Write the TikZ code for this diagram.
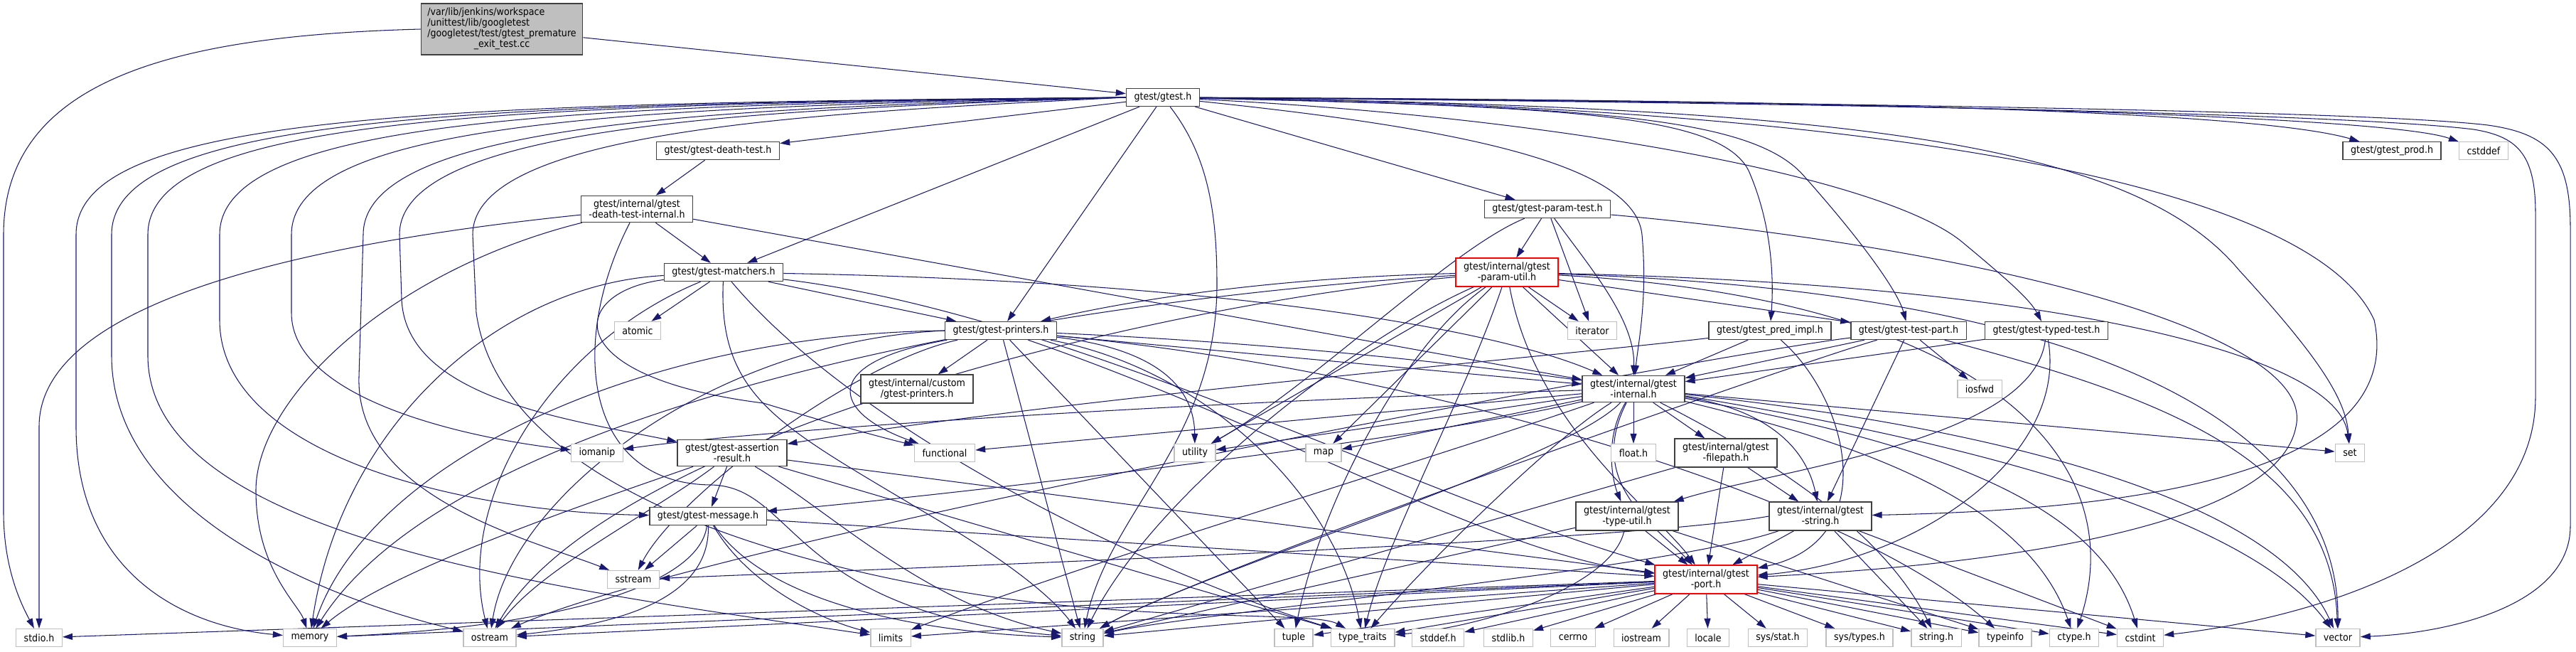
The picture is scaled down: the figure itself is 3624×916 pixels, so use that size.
\documentclass[tikz,border=0pt]{standalone}
\usepackage{fontspec}
\setmainfont{DejaVu Sans}[FakeStretch=0.9]
\usepackage{tikz}
\usetikzlibrary{arrows.meta}
\definecolor{EdgeBlue}{HTML}{191970}
\definecolor{BoxGray}{HTML}{404040}
\definecolor{SysGray}{HTML}{BFBFBF}
\definecolor{RootFill}{HTML}{BFBFBF}
\pgfdeclarelayer{background}
\pgfsetlayers{background,main}

\begin{document}
\begin{tikzpicture}[
  x=0.2mm, y=-0.2mm,
  hdr/.style={draw=BoxGray,line width=0.8pt,fill=white,align=center,
              font=\fontsize{8}{8.6}\selectfont,inner xsep=2.2mm,inner ysep=1.1mm,minimum height=5mm},
  sys/.style={hdr,draw=SysGray},
  trunc/.style={hdr,draw=red},
  rootbox/.style={hdr,fill=RootFill,inner xsep=1.8mm},
  edge/.style={draw=EdgeBlue,line width=0.6pt,-{Triangle[length=2.8mm,width=1.8mm]}}
]
  \useasboundingbox (0,0) rectangle (3624,916);

  \node[rootbox] (root) at (706,41) {\begin{tabular}{@{}l@{}}/var/lib/jenkins/workspace\\/unittest/lib/googletest\\/googletest/test/gtest\_premature\\\multicolumn{1}{@{}c@{}}{\_exit\_test.cc}\end{tabular}};
  \node[hdr] (gtest) at (1636,137) {gtest/gtest.h};
  \node[hdr] (deathtest) at (1010,212) {gtest/gtest-death-test.h};
  \node[hdr] (prod) at (3365,212) {gtest/gtest\_prod.h};
  \node[sys] (cstddef) at (3494,212) {cstddef};
  \node[hdr] (dti) at (896,294) {gtest/internal/gtest\\-death-test-internal.h};
  \node[hdr] (paramtest) at (2177,294) {gtest/gtest-param-test.h};
  \node[hdr] (matchers) at (1018,383) {gtest/gtest-matchers.h};
  \node[trunc] (paramutil) at (2120,383) {gtest/internal/gtest\\-param-util.h};
  \node[sys] (atomic) at (897,465) {atomic};
  \node[hdr] (printers) at (1408,465) {gtest/gtest-printers.h};
  \node[sys] (iterator) at (2240,465) {iterator};
  \node[hdr] (predimpl) at (2490,465) {gtest/gtest\_pred\_impl.h};
  \node[hdr] (testpart) at (2685,465) {gtest/gtest-test-part.h};
  \node[hdr] (typedtest) at (2879,465) {gtest/gtest-typed-test.h};
  \node[hdr] (custom) at (1290,547) {gtest/internal/custom\\/gtest-printers.h};
  \node[hdr] (internal) at (2298,547) {gtest/internal/gtest\\-internal.h};
  \node[sys] (iosfwd) at (2785,547) {iosfwd};
  \node[sys] (iomanip) at (840,637) {iomanip};
  \node[hdr] (assertion) at (1030,637) {gtest/gtest-assertion\\-result.h};
  \node[sys] (functional) at (1329,637) {functional};
  \node[sys] (utility) at (1681,637) {utility};
  \node[sys] (map) at (1862,637) {map};
  \node[sys] (floath) at (2298,637) {float.h};
  \node[hdr] (filepath) at (2428,637) {gtest/internal/gtest\\-filepath.h};
  \node[sys] (set) at (3306,637) {set};
  \node[hdr] (message) at (996,726) {gtest/gtest-message.h};
  \node[hdr] (typeutil) at (2289,726) {gtest/internal/gtest\\-type-util.h};
  \node[hdr] (gstring) at (2561,726) {gtest/internal/gtest\\-string.h};
  \node[sys] (sstream) at (891,815) {sstream};
  \node[trunc] (port) at (2400,815) {gtest/internal/gtest\\-port.h};
  \node[sys] (stdio) at (55,897) {stdio.h};
  \node[sys] (memory) at (436,897) {memory};
  \node[sys] (ostream) at (689,897) {ostream};
  \node[sys] (limits) at (1253,897) {limits};
  \node[sys] (string) at (1523,897) {string};
  \node[sys] (tuple) at (1820,897) {tuple};
  \node[sys] (typetraits) at (1917,897) {type\_traits};
  \node[sys] (stddef) at (2023,897) {stddef.h};
  \node[sys] (stdlib) at (2122,897) {stdlib.h};
  \node[sys] (cerrno) at (2213,897) {cerrno};
  \node[sys] (iostream) at (2309,897) {iostream};
  \node[sys] (locale) at (2403,897) {locale};
  \node[sys] (sysstat) at (2501,897) {sys/stat.h};
  \node[sys] (systypes) at (2616,897) {sys/types.h};
  \node[sys] (stringh) at (2724,897) {string.h};
  \node[sys] (typeinfo) at (2821,897) {typeinfo};
  \node[sys] (ctype) at (2918,897) {ctype.h};
  \node[sys] (cstdint) at (3011,897) {cstdint};
  \node[sys] (vector) at (3289,897) {vector};

  \begin{pgfonlayer}{background}
  \draw[edge] (root) -- (gtest);
  \draw[edge] (root.west) .. controls (250,50) and (5,110) .. (5,330) -- (5,720) .. controls (5,800) and (30,850) .. (stdio);

  \draw[edge] (gtest.west) .. controls (607,145) and (107,160) .. (107,330) -- (107,600) .. controls (107,800) and (250,880) .. (memory);
  \draw[edge] (gtest.west) .. controls (657,146) and (157,162) .. (157,330) -- (157,500) .. controls (157,720) and (450,840) .. (ostream);
  \draw[edge] (gtest.west) .. controls (708,147) and (208,164) .. (208,330) -- (208,500) .. controls (208,760) and (800,830) .. (limits);
  \draw[edge] (gtest.west) .. controls (809,148) and (309,166) .. (309,330) -- (309,450) .. controls (309,640) and (650,720) .. (message);
  \draw[edge] (gtest.west) .. controls (910,150) and (410,168) .. (410,330) -- (410,440) .. controls (410,560) and (650,615) .. (iomanip);
  \draw[edge] (gtest.west) .. controls (1011,152) and (511,172) .. (511,330) -- (505,530) .. controls (500,700) and (750,760) .. (sstream);
  \draw[edge] (gtest.west) .. controls (1062,154) and (562,176) .. (562,330) -- (565,420) .. controls (570,560) and (800,590) .. (assertion);
  \draw[edge] (gtest.west) .. controls (1165,158) and (665,180) .. (665,330) -- (670,440) .. controls (700,650) and (1000,780) .. (1400,840) .. controls (1650,875) and (1850,860) .. (typetraits);
  \draw[edge] (gtest) -- (deathtest);
  \draw[edge] (gtest) -- (matchers);
  \draw[edge] (gtest) -- (printers);
  \draw[edge] (gtest) -- (paramtest);
  \draw[edge] (gtest) .. controls (1700,220) and (1712,300) .. (1712,400) .. controls (1712,620) and (1560,720) .. (string);
  \draw[edge] (gtest) .. controls (2050,180) and (2300,230) .. (2310,330) .. controls (2318,420) and (2305,480) .. (internal);
  \draw[edge] (gtest) .. controls (2200,150) and (2420,160) .. (2460,240) .. controls (2495,320) and (2495,400) .. (predimpl);
  \draw[edge] (gtest) .. controls (2250,150) and (2470,165) .. (2540,250) .. controls (2620,340) and (2670,410) .. (testpart);
  \draw[edge] (gtest) .. controls (2200,165) and (2650,250) .. (2760,340) .. controls (2820,390) and (2855,420) .. (typedtest);
  \draw[edge] (gtest) .. controls (2600,150) and (3000,200) .. (3150,380) .. controls (3260,500) and (3300,560) .. (set);
  \draw[edge] (gtest) .. controls (2600,148) and (3250,250) .. (3340,450) .. controls (3390,680) and (2950,718) .. (gstring);
  \draw[edge] (gtest) .. controls (2400,140) and (3150,150) .. (prod);
  \draw[edge] (gtest) .. controls (2500,140) and (3350,160) .. (cstddef);
  \draw[edge] (gtest) .. controls (2600,145) and (3300,160) .. (3480,182) .. controls (3540,192) and (3567,215) .. (3567,300) -- (3567,560) .. controls (3565,780) and (3250,870) .. (cstdint);
  \draw[edge] (gtest) .. controls (2700,145) and (3350,158) .. (3500,176) .. controls (3585,188) and (3616,220) .. (3616,320) -- (3616,740) .. controls (3616,850) and (3450,890) .. (vector);

  \draw[edge] (deathtest) -- (dti);

  \draw[edge] (dti) .. controls (450,340) and (55,420) .. (55,600) -- (stdio);
  \draw[edge] (dti) .. controls (550,380) and (360,560) .. (360,690) .. controls (360,800) and (420,850) .. (memory);
  \draw[edge] (dti) .. controls (800,480) and (820,680) .. (1000,682) .. controls (1120,684) and (1110,860) .. (string);
  \draw[edge] (dti) -- (matchers);
  \draw[edge] (dti) -- (internal);

  \draw[edge] (matchers) -- (atomic);
  \draw[edge] (matchers) -- (printers);
  \draw[edge] (matchers) .. controls (1700,395) and (2100,460) .. (internal);
  \draw[edge] (matchers) .. controls (1500,440) and (2000,700) .. (port);
  \draw[edge] (matchers) .. controls (700,400) and (480,600) .. (memory);
  \draw[edge] (matchers) .. controls (780,480) and (640,700) .. (ostream);
  \draw[edge] (matchers) .. controls (800,410) and (780,530) .. (1074,567) .. controls (1150,590) and (1220,610) .. (functional);
  \draw[edge] (matchers) .. controls (1010,560) and (1100,600) .. (1300,720) .. controls (1420,790) and (1480,840) .. (string);
  \draw[edge] (matchers) .. controls (1200,600) and (1600,800) .. (typetraits);

  \draw[edge] (paramtest) -- (paramutil);
  \draw[edge] (paramtest) -- (iterator);
  \draw[edge] (paramtest) .. controls (2040,350) and (1850,540) .. (utility);
  \draw[edge] (paramtest) .. controls (2240,380) and (2300,450) .. (internal);
  \draw[edge] (paramtest) .. controls (2800,350) and (3260,470) .. (3230,600) .. controls (3200,760) and (2700,800) .. (port);

  \draw[edge] (paramutil) .. controls (1800,390) and (1600,420) .. (printers);
  \draw[edge] (paramutil) .. controls (1500,420) and (650,560) .. (memory);
  \draw[edge] (paramutil) .. controls (1600,430) and (850,620) .. (ostream);
  \draw[edge] (paramutil) .. controls (1900,480) and (1620,700) .. (string);
  \draw[edge] (paramutil) .. controls (1980,480) and (1860,700) .. (tuple);
  \draw[edge] (paramutil) .. controls (2060,560) and (1950,760) .. (typetraits);
  \draw[edge] (paramutil) -- (map);
  \draw[edge] (paramutil) -- (utility);
  \draw[edge] (paramutil) -- (iterator);
  \draw[edge] (paramutil) -- (internal);
  \draw[edge] (paramutil) .. controls (2160,600) and (2330,720) .. (port);
  \draw[edge] (paramutil) -- (testpart);
  \draw[edge] (paramutil) .. controls (2900,400) and (3290,500) .. (set);
  \draw[edge] (paramutil) .. controls (2950,410) and (3290,600) .. (vector);
  \draw[edge] (paramutil) .. controls (2800,420) and (3000,650) .. (ctype);

  \draw[edge] (printers) -- (custom);
  \draw[edge] (printers) .. controls (1150,510) and (1170,580) .. (functional);
  \draw[edge] (printers.west) .. controls (900,470) and (520,650) .. (memory);
  \draw[edge] (printers.west) .. controls (1000,480) and (720,700) .. (ostream);
  \draw[edge] (printers) .. controls (1200,510) and (950,700) .. (sstream);
  \draw[edge] (printers) -- (string);
  \draw[edge] (printers) -- (tuple);
  \draw[edge] (printers) .. controls (1700,520) and (1880,700) .. (typetraits);
  \draw[edge] (printers) .. controls (1620,490) and (1680,540) .. (utility);
  \draw[edge] (printers) -- (internal);
  \draw[edge] (printers) .. controls (1800,600) and (2100,780) .. (port);
  \draw[edge] (printers) .. controls (2000,520) and (2600,700) .. (typeinfo);
  \draw[edge] (printers) .. controls (2200,500) and (3100,640) .. (vector);

  \draw[edge] (predimpl) .. controls (2200,500) and (1500,560) .. (assertion);
  \draw[edge] (predimpl) -- (internal);
  \draw[edge] (predimpl) .. controls (2600,560) and (2650,760) .. (port);

  \draw[edge] (testpart) -- (iosfwd);
  \draw[edge] (testpart) -- (internal);
  \draw[edge] (testpart) -- (gstring);
  \draw[edge] (testpart) .. controls (2400,500) and (1000,760) .. (ostream);
  \draw[edge] (testpart) .. controls (2500,520) and (1700,800) .. (string);
  \draw[edge] (testpart) .. controls (3050,560) and (3280,650) .. (vector);

  \draw[edge] (typedtest) -- (internal);
  \draw[edge] (typedtest) .. controls (2860,620) and (2500,660) .. (typeutil);
  \draw[edge] (typedtest) .. controls (2910,640) and (2700,790) .. (port);

  \draw[edge] (internal) -- (floath);
  \draw[edge] (internal) -- (filepath);
  \draw[edge] (internal) .. controls (2255,620) and (2270,680) .. (typeutil);
  \draw[edge] (internal) .. controls (2510,580) and (2545,650) .. (gstring);
  \draw[edge] (internal) .. controls (2230,680) and (2330,740) .. (port);
  \draw[edge] (internal) -- (map);
  \draw[edge] (internal) -- (utility);
  \draw[edge] (internal) -- (functional);
  \draw[edge] (internal) .. controls (1800,560) and (1100,600) .. (iomanip);
  \draw[edge] (internal) .. controls (2000,620) and (1300,700) .. (message);
  \draw[edge] (internal) .. controls (2000,650) and (1500,800) .. (limits);
  \draw[edge] (internal) .. controls (2200,650) and (1700,800) .. (string);
  \draw[edge] (internal) .. controls (2180,620) and (2000,800) .. (typetraits);
  \draw[edge] (internal) -- (set);
  \draw[edge] (internal) .. controls (2800,600) and (3200,700) .. (vector);
  \draw[edge] (internal) .. controls (2600,620) and (2850,700) .. (ctype);
  \draw[edge] (internal) .. controls (2700,620) and (2950,700) .. (cstdint);
  \draw[edge] (internal) .. controls (2500,650) and (2650,750) .. (stringh);

  \draw[edge] (assertion) -- (message);
  \draw[edge] (assertion) .. controls (850,700) and (550,800) .. (memory);
  \draw[edge] (assertion) .. controls (920,720) and (760,800) .. (ostream);
  \draw[edge] (assertion) .. controls (1170,720) and (1300,850) .. (string);
  \draw[edge] (assertion) -- (typetraits);
  \draw[edge] (assertion) -- (port);

  \draw[edge] (message) -- (sstream);
  \draw[edge] (message) .. controls (985,820) and (800,880) .. (memory);
  \draw[edge] (message) .. controls (1000,850) and (850,880) .. (ostream);
  \draw[edge] (message) .. controls (1050,820) and (1150,870) .. (limits);
  \draw[edge] (message) .. controls (1080,850) and (1300,890) .. (string);
  \draw[edge] (message) -- (port);

  \draw[edge] (filepath) -- (string);
  \draw[edge] (filepath) -- (port);
  \draw[edge] (filepath) -- (gstring);

  \draw[edge] (typeutil) -- (port);
  \draw[edge] (typeutil) -- (string);
  \draw[edge] (typeutil) .. controls (2270,820) and (2100,880) .. (typetraits);
  \draw[edge] (typeutil) -- (typeinfo);

  \draw[edge] (gstring) -- (port);
  \draw[edge] (gstring) -- (stringh);
  \draw[edge] (gstring) -- (cstdint);
  \draw[edge] (gstring.west) .. controls (2300,760) and (1500,790) .. (sstream);
  \draw[edge] (gstring) .. controls (2350,800) and (1700,860) .. (string);

  \draw[edge] (port) -- (stdio);
  \draw[edge] (port) -- (memory);
  \draw[edge] (port) -- (ostream);
  \draw[edge] (port) -- (limits);
  \draw[edge] (port) -- (string);
  \draw[edge] (port) -- (tuple);
  \draw[edge] (port) -- (typetraits);
  \draw[edge] (port) -- (stddef);
  \draw[edge] (port) -- (stdlib);
  \draw[edge] (port) -- (cerrno);
  \draw[edge] (port) -- (iostream);
  \draw[edge] (port) -- (locale);
  \draw[edge] (port) -- (sysstat);
  \draw[edge] (port) -- (systypes);
  \draw[edge] (port) -- (stringh);
  \draw[edge] (port) -- (typeinfo);
  \draw[edge] (port) -- (ctype);
  \draw[edge] (port) -- (cstdint);
  \draw[edge] (port) -- (vector);
  \end{pgfonlayer}
\end{tikzpicture}
\end{document}
